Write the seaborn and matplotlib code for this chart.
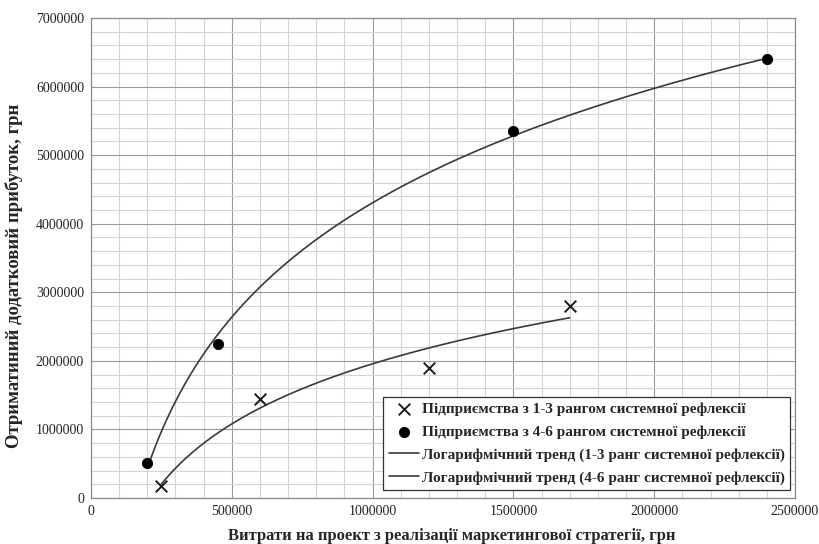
import numpy as np
import pandas as pd
import matplotlib
matplotlib.use("Agg")
import matplotlib.pyplot as plt
import seaborn as sns
from matplotlib.ticker import MultipleLocator

# Дані
x_low = [250000, 600000, 1200000, 1700000]     # 1-3 ранг
y_low = [180000, 1450000, 1900000, 2800000]
x_high = [200000, 450000, 1500000, 2400000]    # 4-6 ранг
y_high = [510000, 2250000, 5350000, 6400000]

label_low = "Підприємства з 1-3 рангом системної рефлексії"
label_high = "Підприємства з 4-6 рангом системної рефлексії"
label_trend_low = "Логарифмічний тренд (1-3 ранг системної рефлексії)"
label_trend_high = "Логарифмічний тренд (4-6 ранг системної рефлексії)"
x_label = "Витрати на проект з реалізації маркетингової стратегії, грн"
y_label = "Отриматиний додатковий прибуток, грн"


def log_trend(xs, ys, n=200):
    # логарифмічна апроксимація y = a + b*ln(x), як у Excel
    b, a = np.polyfit(np.log(xs), ys, 1)
    xx = np.linspace(min(xs), max(xs), n)
    return pd.DataFrame({"x": xx, "y": a + b * np.log(xx)})


sns.set_theme(style="white")
plt.rcParams["font.family"] = ["Liberation Serif", "DejaVu Serif"]

fig = plt.figure(figsize=(8.2, 5.44), dpi=100)
ax = fig.add_axes([0.111, 0.0846, 0.8585, 0.8824])

trend_low = log_trend(x_low, y_low)
trend_high = log_trend(x_high, y_high)

sns.lineplot(data=trend_low, x="x", y="y", ax=ax, color="#3a3a3a", lw=1.2,
             label=label_trend_low, zorder=3)
sns.lineplot(data=trend_high, x="x", y="y", ax=ax, color="#3a3a3a", lw=1.2,
             label=label_trend_high, zorder=3)

sns.scatterplot(x=x_low, y=y_low, ax=ax, marker="x", s=70, color="#1a1a1a",
                linewidth=1.4, label=label_low, zorder=4)
sns.scatterplot(x=x_high, y=y_high, ax=ax, marker="o", s=55, color="black",
                edgecolor="black", label=label_high, zorder=4)

ax.set_xlim(0, 2500000)
ax.set_ylim(0, 7000000)
ax.xaxis.set_major_locator(MultipleLocator(500000))
ax.xaxis.set_minor_locator(MultipleLocator(100000))
ax.yaxis.set_major_locator(MultipleLocator(1000000))
ax.yaxis.set_minor_locator(MultipleLocator(200000))
ax.ticklabel_format(style="plain")
ax.grid(which="major", color="#9a9a9a", lw=0.8)
ax.grid(which="minor", color="#d4d4d4", lw=0.8)
ax.set_axisbelow(True)
for s in ax.spines.values():
    s.set_color("#8a8a8a")
    s.set_linewidth(0.9)
ax.tick_params(which="both", length=0, labelsize=10, pad=5, colors="#222222")

ax.set_xlabel(x_label, fontsize=12, fontweight="bold")
ax.set_ylabel(y_label, fontsize=13.5, fontweight="bold")
ax.xaxis.set_label_coords(0.513, -0.062)
ax.yaxis.set_label_coords(-0.097, 0.4625)

h, l = ax.get_legend_handles_labels()
order = [l.index(label_low), l.index(label_high),
         l.index(label_trend_low), l.index(label_trend_high)]
leg = ax.legend([h[i] for i in order], [l[i] for i in order], loc="lower right",
                bbox_to_anchor=(0.997, 0.01), frameon=True, fancybox=False,
                prop={"weight": "bold", "size": 11}, handlelength=2.0,
                handletextpad=0.15, labelspacing=0.6, borderpad=0.35,
                borderaxespad=0.2)
leg.get_frame().set_edgecolor("#333333")
leg.get_frame().set_linewidth(0.9)
leg.get_frame().set_alpha(1)

fig.savefig("out.png", dpi=100)
